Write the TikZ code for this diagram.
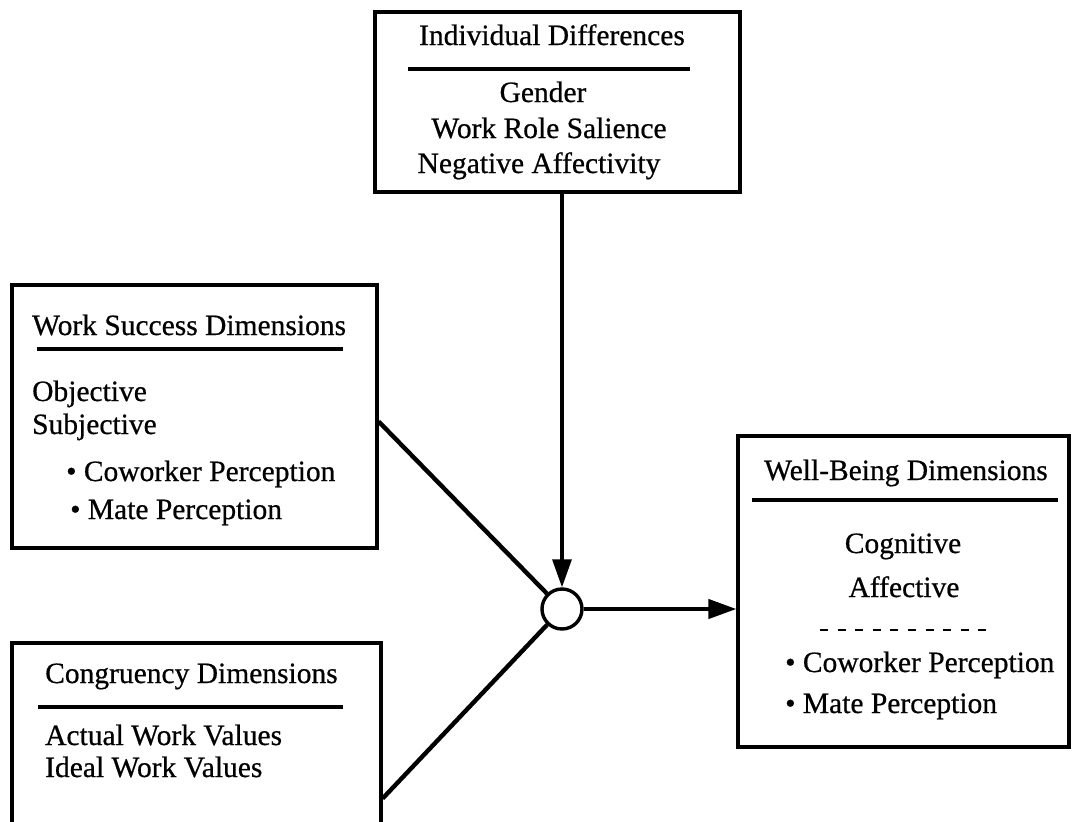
\documentclass[tikz,border=0pt]{standalone}
\usepackage{fontspec}
\setmainfont{Liberation Serif}[FakeBold=0.6]
\usetikzlibrary{arrows.meta,calc}
\begin{document}
\begin{tikzpicture}[x=1pt,y=-1pt,
  box/.style={draw,line width=3.2pt,rectangle,inner sep=0pt},
  lbl/.style={inner sep=0pt,font=\fontsize{29.5}{35}\selectfont},
  rulestyle/.style={line width=3.2pt},
  conn/.style={line width=4.4pt},
  arr/.style={line width=3.2pt,-{Triangle[length=28pt,width=19pt]}},
  junction/.style={draw,circle,line width=3.4pt,minimum size=40pt,inner sep=0pt,fill=white}]
\useasboundingbox (0,0) rectangle (1072,822);
\clip (0,0) rectangle (1072,822);
% boxes
\node[box,minimum width=365pt,minimum height=180pt] (top) at (557.5,102) {};
\node[box,minimum width=365pt,minimum height=263pt] (ws) at (194.5,416.5) {};
\node[box,minimum width=369pt,minimum height=217pt] (cg) at (196.5,751.5) {};
\node[box,minimum width=331pt,minimum height=311pt] (wb) at (903.5,591.5) {};
\node[junction] (c) at (562,609) {};
% top box text
\node[lbl,anchor=base] (t1) at (552,45) {Individual Differences};
\draw[rulestyle] (408,69) -- (690,69);
\node[lbl,anchor=base] (t2) at (543,102) {Gender};
\node[lbl,anchor=base] (t3) at (549,138) {Work Role Salience};
\node[lbl,anchor=base] (t4) at (539,173) {Negative Affectivity};
% work success box
\node[lbl,anchor=base west] (w1) at (32,335) {Work Success Dimensions};
\draw[rulestyle] (37,349) -- (343,349);
\node[lbl,anchor=base west] (w2) at (32,401) {Objective};
\node[lbl,anchor=base west] (w3) at (32,434) {Subjective};
\node[lbl,anchor=base west] (w4) at (66,481) {\textbullet\ Coworker Perception};
\node[lbl,anchor=base west] (w5) at (70,519) {\textbullet\ Mate Perception};
% congruency box
\node[lbl,anchor=base west] (g1) at (45,683) {Congruency Dimensions};
\draw[rulestyle] (38,707) -- (343,707);
\node[lbl,anchor=base west] (g2) at (45,745) {Actual Work Values};
\node[lbl,anchor=base west] (g3) at (45,777) {Ideal Work Values};
% well-being box
\node[lbl,anchor=base] (b1) at (906,480) {Well-Being Dimensions};
\draw[rulestyle] (752,500) -- (1058,500);
\node[lbl,anchor=base] (b2) at (903,553) {Cognitive};
\node[lbl,anchor=base] (b3) at (904,597) {Affective};
\draw[line width=2.6pt,dash pattern=on 8pt off 9.6pt] (820,630) -- (990,630);
\node[lbl,anchor=base west] (b4) at (785,672) {\textbullet\ Coworker Perception};
\node[lbl,anchor=base west] (b5) at (785,713) {\textbullet\ Mate Perception};
% connectors
\draw[arr] (c |- top.south) -- (c);
\draw[conn] ($(ws.east)+(0,5)$) -- (c);
\draw[conn] ($(cg.east)+(0,47)$) -- (c);
\draw[arr,line width=4.2pt] (c) -- (c -| wb.west);
\end{tikzpicture}
\end{document}
